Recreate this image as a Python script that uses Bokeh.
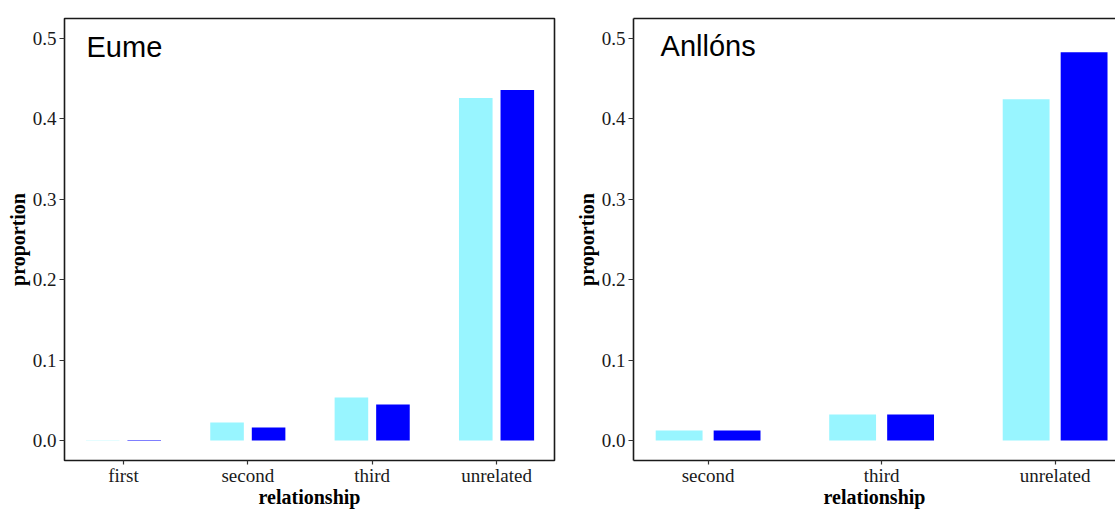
from bokeh.plotting import figure
from bokeh.layouts import row
from bokeh.models import (ColumnDataSource, FixedTicker, NumeralTickFormatter,
                          Range1d, Label, LinearAxis)
from bokeh.embed import file_html
from bokeh.resources import INLINE

# Proportion of pairs in each relationship class, two series per site
eume_categories = ["first", "second", "third", "unrelated"]
eume_light = [0.0003, 0.0223, 0.0535, 0.4262]
eume_dark = [0.0004, 0.0161, 0.0446, 0.4360]

anllons_categories = ["second", "third", "unrelated"]
anllons_light = [0.0123, 0.0323, 0.4245]
anllons_dark = [0.0123, 0.0323, 0.4830]

y_ticks = [0.0, 0.1, 0.2, 0.3, 0.4, 0.5]

LIGHT = "#98F5FF"
DARK = "#0000FF"
INK = "#1a1a1a"
SERIF = "Liberation Serif"
BAR_W = 0.27
DODGE = 0.167


def make_panel(categories, light, dark, x_range, width, height,
               borders, open_right=False):
    left_b, right_b, top_b, bottom_b = borders
    p = figure(width=width, height=height, x_range=x_range,
               y_range=Range1d(-0.025, 0.525), output_backend="svg",
               toolbar_location=None, min_border_left=left_b,
               min_border_right=right_b, min_border_top=top_b,
               min_border_bottom=bottom_b)
    idx = list(range(1, len(categories) + 1))
    src = ColumnDataSource(dict(
        xl=[i - DODGE for i in idx], xd=[i + DODGE for i in idx],
        light=light, dark=dark))
    p.vbar(x="xl", top="light", bottom=0, width=BAR_W, source=src,
           fill_color=LIGHT, line_color=None)
    p.vbar(x="xd", top="dark", bottom=0, width=BAR_W, source=src,
           fill_color=DARK, line_color=None)

    p.xgrid.visible = False
    p.ygrid.visible = False
    p.background_fill_color = "white"
    p.border_fill_color = "white"

    xa = p.xaxis[0]
    xa.ticker = FixedTicker(ticks=idx)
    xa.major_label_overrides = {i: c for i, c in zip(idx, categories)}
    ya = p.yaxis[0]
    ya.ticker = FixedTicker(ticks=y_ticks)
    ya.formatter = NumeralTickFormatter(format="0.0")

    for ax in (xa, ya):
        ax.major_tick_in = 0
        ax.minor_tick_line_color = None
        ax.major_tick_line_color = "#333333"
        ax.major_tick_line_width = 1.2
        ax.major_label_text_font = SERIF
        ax.major_label_text_font_size = "19px"
        ax.major_label_text_color = INK
        ax.axis_label_text_font = SERIF
        ax.axis_label_text_font_size = "20px"
        ax.axis_label_text_font_style = "bold"
        ax.axis_label_text_color = "black"
    xa.major_tick_out = 4
    ya.major_tick_out = 5
    xa.axis_label = "relationship"
    ya.axis_label = "proportion"
    xa.major_label_standoff = 0
    xa.axis_label_standoff = -3
    ya.major_label_standoff = 3
    ya.axis_label_standoff = 1

    if open_right:
        # frame drawn from axis lines only: left, bottom and top
        p.outline_line_color = None
        for ax in (xa, ya):
            ax.axis_line_color = "#1a1a1a"
            ax.axis_line_width = 1.6
        top = LinearAxis(ticker=FixedTicker(ticks=[]), major_tick_out=0,
                         major_tick_in=0, minor_tick_out=0,
                         axis_line_color="#1a1a1a", axis_line_width=1.6,
                         major_label_text_font_size="0px")
        p.add_layout(top, "above")
    else:
        p.outline_line_color = "#1a1a1a"
        p.outline_line_width = 1.6
        p.outline_line_alpha = 1.0
        xa.axis_line_color = None
        ya.axis_line_color = None

    return p


left = make_panel(eume_categories, eume_light, eume_dark,
                  Range1d(0.526, 4.466), 560, 510, (64, 6, 17, 50))
left.add_layout(Label(x=0.703, y=0.489, text="Eume", text_font="Liberation Sans",
                      text_font_size="29px", text_color="black",
                      text_baseline="alphabetic"))

right = make_panel(anllons_categories, anllons_light, anllons_dark,
                   Range1d(0.57, 3.348), 555, 510, (73, 0, 18, 46),
                   open_right=True)
right.add_layout(Label(x=0.726, y=0.491, text="Anllóns",
                       text_font="Liberation Sans", text_font_size="29px",
                       text_color="black", text_baseline="alphabetic"))

layout = row(left, right, spacing=0)
open("out.html", "w").write(file_html(layout, INLINE))
